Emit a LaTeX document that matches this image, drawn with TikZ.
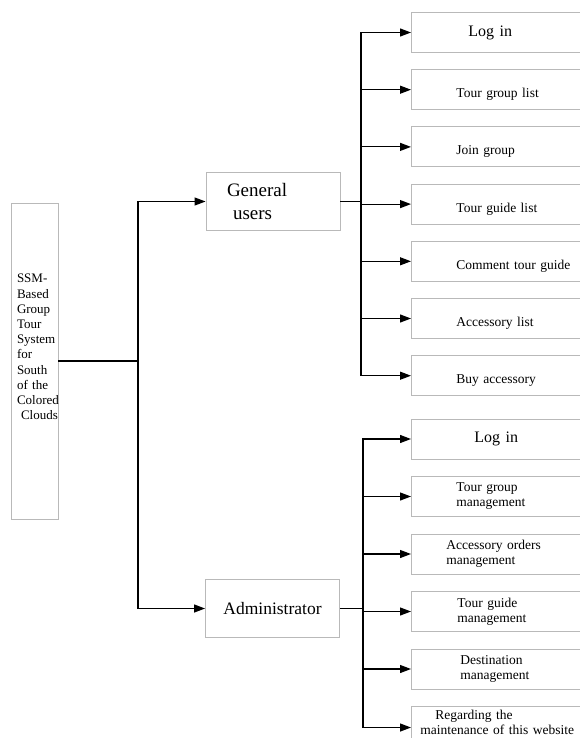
\documentclass[tikz,border=0pt]{standalone}
\usepackage{fontspec}
\setmainfont{Liberation Serif}
\usepackage{tikz}
\usetikzlibrary{arrows.meta,positioning}
\definecolor{boxgray}{RGB}{185,185,185}
\tikzset{
root_box/.style={rectangle, draw=boxgray, line width=0.9pt, minimum width=47pt, minimum height=316pt, inner xsep=0pt, text width=35pt, align=left, text depth=165pt, font=\fontsize{13}{15.2}\selectfont},
role_box/.style={rectangle, draw=boxgray, line width=0.9pt, minimum width=134pt, minimum height=58pt, inner xsep=0pt},
leaf_box/.style={rectangle, draw=boxgray, line width=0.9pt, minimum width=220pt, minimum height=40pt, inner xsep=0pt, align=left, text width=#1, font=\fontsize{13.5}{15}\selectfont},
leaf_box/.default=130pt,
low_text/.style={text height=19pt},
wire/.style={line width=1.2pt},
link/.style={wire, -{Triangle[length=11pt,width=8pt]}}
}

\begin{document}
\begin{tikzpicture}[x=1pt,y=-1pt]
    \clip (0,0) rectangle (580,738);
    \node[root_box] (root) at (34.5,361) {SSM-\\Based\\Group\\Tour\\System\\for\\South\\of the\\Colored\\\hspace*{4pt}Clouds};
    \node[role_box, text width=92pt, align=left, font=\fontsize{19}{23}\selectfont] (general) at (273,201.5) {General\\\hspace*{6pt}users};
    \node[role_box, font=\fontsize{17.5}{20}\selectfont] (admin) at (272.5,608.5) {Administrator};

    % what a general user can do
    \node[leaf_box=106pt, anchor=west, font=\fontsize{16}{18}\selectfont] (user_1) at (411,32.5) {Log in};
    \node[leaf_box, low_text] (user_2) [below=16.3pt of user_1] {Tour group list};
    \node[leaf_box, low_text] (user_3) [below=16.3pt of user_2] {Join group};
    \node[leaf_box, low_text] (user_4) [below=16.3pt of user_3] {Tour guide list};
    \node[leaf_box, low_text] (user_5) [below=16.3pt of user_4] {Comment tour guide};
    \node[leaf_box, low_text] (user_6) [below=16.3pt of user_5] {Accessory list};
    \node[leaf_box, low_text] (user_7) [below=16.3pt of user_6] {Buy accessory};

    % what the administrator can do
    \node[leaf_box=94pt, anchor=west, font=\fontsize{16}{18}\selectfont] (admin_1) at (411,439) {Log in};
    \node[leaf_box] (admin_2) [below=16.6pt of admin_1] {Tour group\\management};
    \node[leaf_box=150pt] (admin_3) [below=16.6pt of admin_2] {Accessory orders\\management};
    \node[leaf_box=128pt] (admin_4) [below=16.6pt of admin_3] {Tour guide\\management};
    \node[leaf_box=122pt] (admin_5) [below=16.6pt of admin_4] {Destination\\management};
    \node[leaf_box=202pt, text depth=26pt] (admin_6) [below=16.6pt of admin_5] {\hspace*{15pt}Regarding the\\maintenance of this website};

    \coordinate (hub_root) at (138,361);
    \coordinate (hub_user) at (361,201.5);
    \coordinate (hub_admin) at (363,608.5);

    \draw[wire] (root.east) -- (hub_root);
    \draw[link] (hub_root) |- (general.west);
    \draw[link] (hub_root) |- (admin.west);

    \draw[wire] (general.east) -- (hub_user);
    \draw[link] (hub_user) |- (user_1.west);
    \draw[link] (hub_user) |- (user_2.west);
    \draw[link] (hub_user) |- (user_3.west);
    \draw[link] (hub_user) |- (user_4.west);
    \draw[link] (hub_user) |- (user_5.west);
    \draw[link] (hub_user) |- (user_6.west);
    \draw[link] (hub_user) |- (user_7.west);

    \draw[wire] (admin.east) -- (hub_admin);
    \draw[link] (hub_admin) |- (admin_1.west);
    \draw[link] (hub_admin) |- (admin_2.west);
    \draw[link] (hub_admin) |- (admin_3.west);
    \draw[link] (hub_admin) |- (admin_4.west);
    \draw[link] (hub_admin) |- (admin_5.west);
    \draw[link] (hub_admin) |- (admin_6.west);
\end{tikzpicture}
\end{document}
